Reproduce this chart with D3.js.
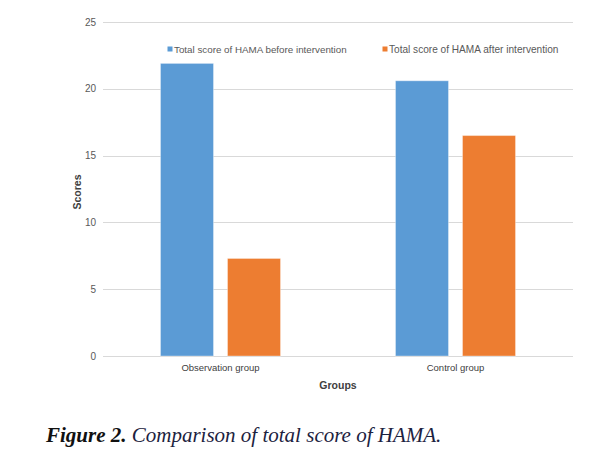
<!DOCTYPE html>
<html><head><meta charset="utf-8">
<script src="https://cdn.jsdelivr.net/npm/d3@7"></script>
<style>body{margin:0;background:#fff;} svg{display:block;}</style>
</head><body>
<svg id="c" width="615" height="462"></svg>
<script>
const groups = ["Observation group", "Control group"];
const seriesNames = ["Total score of HAMA before intervention", "Total score of HAMA after intervention"];
const beforeValues = [21.9, 20.6];
const afterValues = [7.3, 16.5];
const yTicks = [0, 5, 10, 15, 20, 25];
const colors = ["#5b9bd5", "#ed7d31"];

(function () {
const svg = d3.select("#c");
const mLeft = 103, mRight = 573, mTop = 22, mBottom = 356;
const font = "'Liberation Sans', Arial, sans-serif";

const y = d3.scaleLinear().domain([0, 25]).range([mBottom, mTop]);
const x0 = d3.scaleBand().domain(groups).range([mLeft, mRight]).padding(0);
const x1 = d3.scaleBand().domain(seriesNames).range([0, x0.bandwidth()]).paddingInner(0.209).paddingOuter(0.858);

// grid
svg.append("g").selectAll("line").data(yTicks).join("line")
  .attr("x1", mLeft).attr("x2", mRight)
  .attr("y1", d => Math.round(y(d)) + 0.5).attr("y2", d => Math.round(y(d)) + 0.5)
  .attr("stroke", "#d9d9d9").attr("stroke-width", 1);

// y tick labels
svg.append("g").selectAll("text").data(yTicks).join("text")
  .attr("x", 96).attr("y", d => y(d) + 3.5)
  .attr("text-anchor", "end").attr("font-family", font).attr("font-size", 10)
  .attr("fill", "#595959").text(d => d);

const data = groups.map((g, i) => ({group: g, vals: [beforeValues[i], afterValues[i]]}));
const gg = svg.append("g").selectAll("g").data(data).join("g")
  .attr("transform", d => `translate(${x0(d.group)},0)`);
gg.selectAll("rect").data(d => d.vals.map((v, j) => ({s: seriesNames[j], v, j}))).join("rect")
  .attr("x", d => x1(d.s)).attr("width", x1.bandwidth())
  .attr("y", d => y(d.v)).attr("height", d => y(0) - y(d.v))
  .attr("fill", d => colors[d.j])
  .attr("stroke", "#ffffff").attr("stroke-opacity", 0.35).attr("stroke-width", 1);

// x labels
svg.append("g").selectAll("text").data(groups).join("text")
  .attr("x", d => x0(d) + x0.bandwidth() / 2).attr("y", 371)
  .attr("text-anchor", "middle").attr("font-family", font).attr("font-size", 9.5)
  .attr("fill", "#404040").text(d => d);

// axis titles
svg.append("text").attr("x", 338).attr("y", 389).attr("text-anchor", "middle")
  .attr("font-family", font).attr("font-size", 10.5).attr("font-weight", "bold")
  .attr("fill", "#404040").text("Groups");
svg.append("text").attr("transform", "translate(81,192) rotate(-90)").attr("text-anchor", "middle")
  .attr("font-family", font).attr("font-size", 10.5).attr("font-weight", "bold")
  .attr("fill", "#404040").text("Scores");

// legend
const legX = [167.5, 382.5];
const legSize = [9.8, 10.1];
const leg = svg.append("g").selectAll("g").data(seriesNames).join("g")
  .attr("transform", (d, i) => `translate(${legX[i]},49)`);
leg.append("rect").attr("x", 0).attr("y", -2.5).attr("width", 5).attr("height", 5)
  .attr("fill", (d, i) => colors[i]);
leg.append("text").attr("x", 6.5).attr("y", 3.8).attr("font-family", font)
  .attr("font-size", (d, i) => legSize[i])
  .attr("fill", "#595959").text(d => d);

// caption
const cap = svg.append("text").attr("x", 46).attr("y", 442)
  .attr("font-family", "'Liberation Serif', 'Times New Roman', serif").attr("font-size", 21)
  .attr("font-style", "italic");
cap.append("tspan").attr("font-weight", "bold").attr("fill", "#111").text("Figure 2.");
cap.append("tspan").attr("fill", "#1c2240").text(" Comparison of total score of HAMA.");
})();
</script>
</body></html>
